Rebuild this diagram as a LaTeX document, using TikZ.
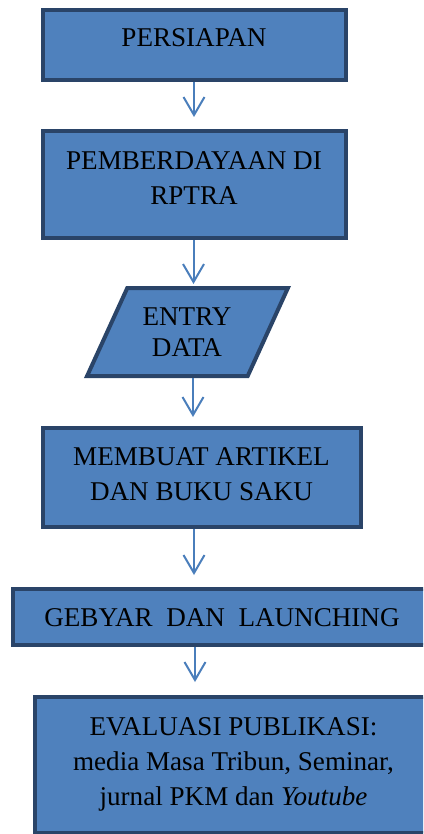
\documentclass[tikz,border=0pt]{standalone}
\usepackage{fontspec}
\setmainfont{Liberation Serif}
\usetikzlibrary{arrows.meta}
\definecolor{boxfill}{HTML}{4F81BD}
\definecolor{boxline}{HTML}{2A4468}
\definecolor{arrcol}{HTML}{4A7EBB}
\begin{document}
\begin{tikzpicture}[x=1pt,y=-1pt,
  box/.style={draw=boxline,fill=boxfill,line width=4pt,inner sep=0pt},
  txt/.style={inner sep=0pt,anchor=base,font=\fontsize{27.1}{35}\selectfont},
  arr/.style={draw=arrcol,line width=2pt,-{Straight Barb[length=18pt,width=21pt,line width=2pt]}}]
\useasboundingbox (0,0) rectangle (423,834);
\clip (0,0) rectangle (423,834);
% shapes
\node[box,rectangle,minimum width=303pt,minimum height=70pt] (b1) at (194.5,45) {};
\node[box,rectangle,minimum width=303pt,minimum height=107pt] (b2) at (194.5,184.5) {};
\draw[box,line join=miter] (127.3,288) -- (287.9,288) -- (247.7,376) -- (87.1,376) -- cycle;
\node[rectangle,inner sep=0pt,outer sep=2pt,minimum width=200.8pt,minimum height=88pt] (b3) at (187.5,332) {};
\node[box,rectangle,minimum width=318pt,minimum height=99pt] (b4) at (202,477.5) {};
\node[box,rectangle,minimum width=418pt,minimum height=56pt] (b5) at (222,617) {};
\node[box,rectangle,minimum width=397pt,minimum height=136pt] (b6) at (233.5,765) {};
% texts
\node[txt] (t1) at (194,47) {PERSIAPAN};
\node[txt] (t2) at (194,169.5) {\begin{tabular}[t]{@{}c@{}}PEMBERDAYAAN DI\\RPTRA\end{tabular}};
\node[txt,font=\fontsize{27.1}{31}\selectfont] (t3) at (187,325) {\begin{tabular}[t]{@{}c@{}}ENTRY\\DATA\end{tabular}};
\node[txt] (t4) at (201.5,465) {\begin{tabular}[t]{@{}c@{}}MEMBUAT ARTIKEL\\DAN BUKU SAKU\end{tabular}};
\node[txt] (t5) at (222,626) {GEBYAR\ \ DAN\ \ LAUNCHING};
\node[txt] (t6) at (233.5,735) {\begin{tabular}[t]{@{}c@{}}EVALUASI PUBLIKASI:\\media Masa Tribun, Seminar,\\jurnal PKM dan \textit{Youtube}\end{tabular}};
% arrows
\coordinate (a1) at (194,0);
\coordinate (a2) at (193.5,0);
\coordinate (a3) at (193,0);
\coordinate (a4) at (194,0);
\coordinate (a5) at (195,0);
\draw[arr,shorten >=12pt] (b1.south -| a1) -- (b2.north -| a1);
\draw[arr,shorten >=2pt] (b2.south -| a2) -- (b3.north -| a2);
\draw[arr,shorten >=9pt] (b3.south -| a3) -- (b4.north -| a3);
\draw[arr,shorten >=12pt] (b4.south -| a4) -- (b5.north -| a4);
\draw[arr,shorten >=13pt] (b5.south -| a5) -- (b6.north -| a5);
\end{tikzpicture}
\end{document}
